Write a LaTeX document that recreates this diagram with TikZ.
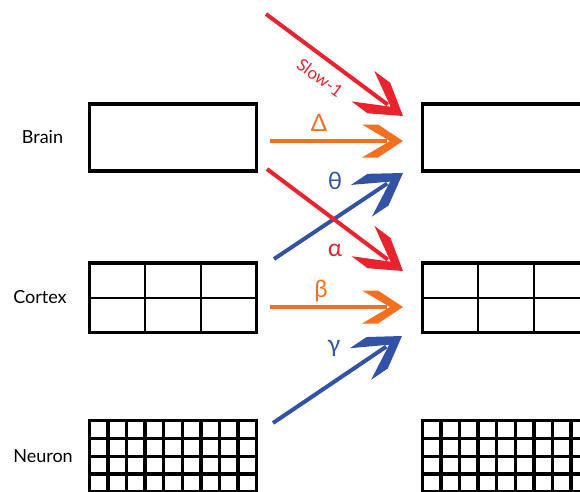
\documentclass[tikz,border=0pt]{standalone}
\usepackage{fontspec}
\setmainfont{Lato}
\usetikzlibrary{arrows.meta}
\definecolor{cred}{RGB}{232,35,45}
\definecolor{corange}{RGB}{243,112,33}
\definecolor{cblue}{RGB}{50,82,165}
% chevron head: #1 name, #2 length, #3 half width, #4 outer corner, #5 inner join, #6 line end
\newcommand\mkchevron[6]{%
\pgfdeclarearrow{
  name = #1,
  setup code = {
    \pgfarrowssettipend{0pt}
    \pgfarrowssetbackend{-#2pt}
    \pgfarrowssetlineend{-#6pt}
    \pgfarrowshullpoint{0pt}{0pt}
    \pgfarrowshullpoint{-#2pt}{#3pt}
    \pgfarrowshullpoint{-#2pt}{-#3pt}
  },
  drawing code = {
    \pgfpathmoveto{\pgfqpoint{0pt}{0pt}}
    \pgfpathlineto{\pgfqpoint{-#4pt}{#3pt}}
    \pgfpathlineto{\pgfqpoint{-#2pt}{#3pt}}
    \pgfpathlineto{\pgfqpoint{-#5pt}{0pt}}
    \pgfpathlineto{\pgfqpoint{-#2pt}{-#3pt}}
    \pgfpathlineto{\pgfqpoint{-#4pt}{-#3pt}}
    \pgfpathclose
    \pgfusepathqfill
  }
}}
\mkchevron{Chev}{41}{16.5}{25}{13}{16}
\mkchevron{ChevL}{50}{19}{30}{15.5}{19}
\begin{document}
\begin{tikzpicture}[x=1pt,y=-1pt,
  box/.style={draw=black, line width=3.6pt, minimum width=167pt, anchor=north west, inner sep=0pt, outer sep=0pt},
  gridA/.style={draw=black, line width=2.2pt},
  gridB/.style={draw=black, line width=3.4pt},
  lab/.style={font=\fontsize{18}{20}\selectfont, anchor=base, inner sep=0pt},
  glab/.style={font=\fontsize{24}{26}\selectfont, inner sep=0pt},
  arrh/.style={line width=4pt, -{Chev}},
  arrd/.style={line width=4pt, -{ChevL}}
]
\useasboundingbox (0,0) rectangle (580,491);
\clip (0,0) rectangle (580,491);

% labels
\node[lab] (lbrain) at (42.5,143) {Brain};
\node[lab] (lcortex) at (40,303) {Cortex};
\node[lab] (lneuron) at (43,462) {Neuron};

% left boxes
\node[box, minimum height=67pt] (brainL) at (89.5,104) {};
\node[box, minimum height=69.5pt] (cortexL) at (89.5,263) {};
\node[box, minimum height=71.5pt] (neuronL) at (89.5,420.5) {};
% right boxes
\node[box, minimum height=67pt] (brainR) at (422.5,104) {};
\node[box, minimum height=69.5pt] (cortexR) at (422.5,263) {};
\node[box, minimum height=71.5pt] (neuronR) at (422.5,420.5) {};

% cortex grids
\foreach \xo in {89.5,422.5}{
  \foreach \k in {1,2}{
    \draw[gridA] (\xo+\k*55.667,263) -- (\xo+\k*55.667,332.5);
  }
  \draw[gridA] (\xo,298) -- (\xo+167,298);
}
% neuron grids
\foreach \xo in {89.5,422.5}{
  \foreach \k in {1,...,8}{
    \draw[gridB] (\xo+\k*18.556,420.5) -- (\xo+\k*18.556,492);
  }
  \foreach \k in {1,2,3}{
    \draw[gridB] (\xo,420.5+\k*17.875) -- (\xo+167,420.5+\k*17.875);
  }
}

% arrow end points
\coordinate (sA) at (266,14);   \coordinate (sB) at (403,116);
\coordinate (dA) at (270,141);  \coordinate (dB) at (403,141);
\coordinate (aA) at (267,169);  \coordinate (aB) at (403,271);
\coordinate (tA) at (274,259);  \coordinate (tB) at (403,173);
\coordinate (bA) at (270,307);  \coordinate (bB) at (403,307);
\coordinate (gA) at (273,423);  \coordinate (gB) at (402,336);

\draw[arrd, cblue] (tA) -- (tB);
\draw[arrd, cblue] (gA) -- (gB);
\draw[arrh, corange] (dA) -- (dB);
\draw[arrh, corange] (bA) -- (bB);
\draw[arrd, cred] (sA) -- (sB);
\draw[arrd, cred] (aA) -- (aB);

% arrow labels
\node[font=\fontsize{17}{20}\selectfont, text=cred, rotate=-36.4, inner sep=0pt] (lslow) at (320,78) {Slow-1};
\node[glab, text=corange] (ldelta) at (319,123) {Δ};
\node[glab, text=cblue] (ltheta) at (335,181) {θ};
\node[glab, text=cred] (lalpha) at (335,250) {α};
\node[glab, text=corange] (lbeta) at (321,291) {β};
\node[glab, text=cblue] (lgamma) at (334,348) {γ};
\end{tikzpicture}
\end{document}
